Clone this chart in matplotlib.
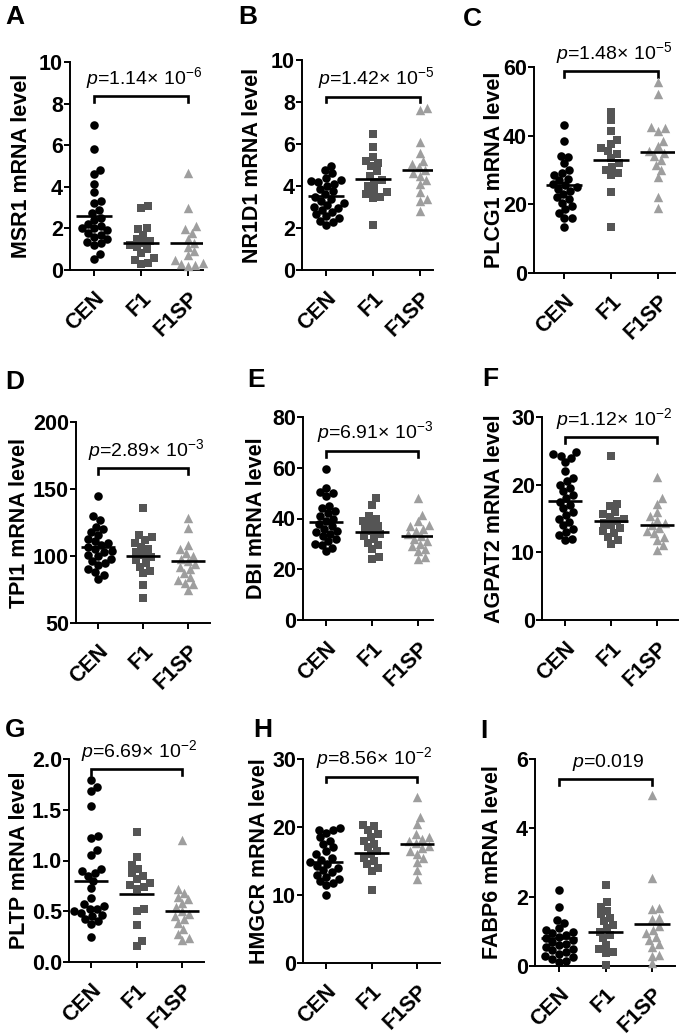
"""Dot plots of mRNA levels (CEN / F1 / F1SP) for nine genes, 3x3 grid."""

import matplotlib

matplotlib.use("Agg")
import matplotlib.pyplot as plt
import matplotlib.transforms as mtransforms
import numpy as np

plt.rcParams["font.family"] = ["Liberation Sans", "DejaVu Sans"]
plt.rcParams["mathtext.fontset"] = "custom"
plt.rcParams["mathtext.rm"] = "Liberation Sans"
plt.rcParams["mathtext.it"] = "Liberation Sans:italic"

GROUPS = ["CEN", "F1", "F1SP"]
GENES = ["MSR1", "NR1D1", "PLCG1", "TPI1", "DBI", "AGPAT2", "PLTP", "HMGCR", "FABP6"]
LETTERS = ["A", "B", "C", "D", "E", "F", "G", "H", "I"]
P_LABELS = [
    r"$\mathit{p}$=1.14× 10$^{-6}$",
    r"$\mathit{p}$=1.42× 10$^{-5}$",
    r"$\mathit{p}$=1.48× 10$^{-5}$",
    r"$\mathit{p}$=2.89× 10$^{-3}$",
    r"$\mathit{p}$=6.91× 10$^{-3}$",
    r"$\mathit{p}$=1.12× 10$^{-2}$",
    r"$\mathit{p}$=6.69× 10$^{-2}$",
    r"$\mathit{p}$=8.56× 10$^{-2}$",
    r"$\mathit{p}$=0.019",
]

# values
msr1_cen = [6.97, 5.8, 4.82, 4.6, 4.15, 3.75, 3.3, 3.2, 2.9, 2.75, 2.5, 2.4, 2.2,
            2.1, 2.0, 2.0, 1.9, 1.8, 1.7, 1.6, 1.5, 1.35, 1.3, 1.2, 0.75, 0.55]
msr1_f1 = [3.1, 3.0, 2.0, 1.95, 1.7, 1.5, 1.4, 1.3, 1.2, 1.1, 1.0, 0.8, 0.6, 0.5, 0.35, 0.3]
msr1_f1sp = [4.65, 3.0, 2.1, 1.95, 1.8, 1.5, 1.3, 1.1, 0.9, 0.7, 0.5, 0.35, 0.3, 0.25, 0.2]
msr1_means = [2.6, 1.3, 1.3]

nr1d1_cen = [4.95, 4.75, 4.6, 4.4, 4.3, 4.25, 4.2, 4.1, 4.0, 3.85, 3.75, 3.6, 3.5, 3.4,
             3.3, 3.2, 3.1, 3.0, 2.95, 2.85, 2.75, 2.65, 2.55, 2.5, 2.35, 2.3, 2.15]
nr1d1_f1 = [6.5, 5.85, 5.4, 5.2, 5.1, 4.95, 4.7, 4.5, 4.3, 4.2, 4.0, 3.8, 3.7, 3.6, 3.5, 3.45, 2.15]
nr1d1_f1sp = [7.7, 7.6, 6.1, 5.55, 5.2, 5.05, 4.9, 4.75, 4.6, 4.5, 4.3, 4.1, 3.7, 3.4, 3.3, 2.8]
nr1d1_means = [3.52, 4.35, 4.77]

plcg1_cen = [43, 38.5, 34, 33.8, 32, 30, 29, 28.5, 27.5, 27, 26, 25.5, 25, 24.5, 24, 23,
             22, 21.5, 20.5, 19.5, 18.5, 17.5, 16, 16, 13.5]
plcg1_f1 = [47, 44.5, 41.5, 38.7, 37.5, 36.5, 35.5, 34.8, 33.5, 32, 31, 30, 29, 28.5, 23.5, 13.5]
plcg1_f1sp = [55.5, 52, 42.5, 42.3, 41.5, 38.5, 37, 35.5, 35, 34, 33, 31.5, 30, 28, 22, 19]
plcg1_means = [25.6, 33.0, 35.2]

tpi1_cen = [145, 130, 127, 122, 120, 118, 116, 113, 111, 110, 108, 107, 105, 104, 103,
            101, 100, 98, 96, 95, 93, 90, 88, 86, 83]
tpi1_f1 = [136, 116, 114, 112, 110, 107, 105, 103, 101, 99, 97, 95, 92, 89, 87, 78, 69]
tpi1_f1sp = [128, 121, 108, 105, 102, 100, 98, 96, 94, 92, 90, 87, 84, 82, 80, 79, 75]
tpi1_means = [106.5, 100.0, 96.0]

dbi_cen = [59.5, 52, 50.5, 50, 49, 45, 44, 43, 42, 41, 40, 39, 38, 37, 36, 35, 34.5,
           34, 33, 32, 31, 30, 29.5, 28.5, 27]
dbi_f1 = [48, 45.5, 41, 40, 39, 38, 37, 36, 35, 34, 33, 32, 30.5, 29.5, 28, 25, 24]
dbi_f1sp = [48, 41.5, 39, 37.5, 37, 36, 35, 34, 33, 32, 31, 30, 29, 28, 27, 25, 24]
dbi_means = [38.8, 34.7, 33.2]

agpat2_cen = [24.8, 24.6, 24.3, 24.0, 23.4, 22.0, 21.0, 20.5, 20.0, 19.5, 19.0, 18.5, 18.0,
              17.5, 17.0, 16.5, 16.0, 15.5, 15.0, 14.5, 14.0, 13.5, 13.0, 12.5, 12.0, 11.8]
agpat2_f1 = [24.2, 17.2, 16.8, 16.0, 15.7, 15.2, 15.0, 14.7, 14.4, 14.0, 13.6, 13.2, 12.8,
             12.3, 11.8, 11.3]
agpat2_f1sp = [21.2, 18.0, 17.2, 16.0, 15.3, 14.8, 14.3, 14.0, 13.6, 13.2, 12.8, 12.3, 11.8,
               11.1, 10.4]
agpat2_means = [17.6, 14.6, 14.1]

pltp_cen = [1.79, 1.72, 1.68, 1.54, 1.24, 1.22, 1.10, 1.05, 0.92, 0.90, 0.88, 0.85, 0.80,
            0.73, 0.63, 0.57, 0.55, 0.52, 0.52, 0.50, 0.48, 0.46, 0.45, 0.42, 0.40, 0.37, 0.25]
pltp_f1 = [1.28, 1.03, 0.96, 0.92, 0.88, 0.85, 0.82, 0.78, 0.76, 0.74, 0.72, 0.52, 0.50,
           0.36, 0.21, 0.16]
pltp_f1sp = [1.20, 0.72, 0.68, 0.64, 0.62, 0.58, 0.54, 0.50, 0.47, 0.45, 0.42, 0.38, 0.33,
             0.28, 0.24, 0.22]
pltp_means = [0.80, 0.67, 0.50]

hmgcr_cen = [19.8, 19.6, 19.5, 19.1, 18.5, 18.0, 17.5, 17.0, 16.5, 16.0, 15.5, 15.2, 14.9,
             14.6, 14.3, 14.0, 13.7, 13.4, 13.0, 12.7, 12.4, 12.0, 11.7, 11.4, 10.0]
hmgcr_f1 = [20.3, 20.2, 19.5, 19.0, 18.5, 18.0, 17.5, 17.0, 16.5, 16.0, 15.5, 15.0, 14.5,
            14.0, 13.6, 10.7]
hmgcr_f1sp = [24.4, 21.4, 20.4, 19.0, 18.6, 18.3, 17.9, 17.6, 17.2, 16.9, 16.5, 16.1, 15.5,
              14.9, 13.7, 12.4]
hmgcr_means = [14.9, 16.2, 17.5]

fabp6_cen = [2.2, 1.7, 1.33, 1.25, 1.1, 1.05, 1.0, 0.95, 0.9, 0.85, 0.8, 0.75, 0.7, 0.65,
             0.6, 0.55, 0.5, 0.45, 0.4, 0.35, 0.3, 0.25, 0.2, 0.15, 0.12]
fabp6_f1 = [2.35, 1.85, 1.72, 1.60, 1.50, 1.40, 1.30, 1.20, 1.10, 1.00, 0.90, 0.80, 0.60,
            0.50, 0.40, 0.38, 0.02]
fabp6_f1sp = [4.95, 2.55, 1.68, 1.65, 1.38, 1.35, 1.15, 1.05, 0.95, 0.85, 0.75, 0.65, 0.55,
              0.32, 0.30, 0.08]
fabp6_means = [0.80, 1.00, 1.22]

# bracket heights (data units)
bracket_y = [8.35, 8.25, 58.8, 165.5, 66.6, 27.0, 1.90, 27.4, 5.42]

y_ticks = [
    [0, 2, 4, 6, 8, 10],
    [0, 2, 4, 6, 8, 10],
    [0, 20, 40, 60],
    [50, 100, 150, 200],
    [0, 20, 40, 60, 80],
    [0, 10, 20, 30],
    [0.0, 0.5, 1.0, 1.5, 2.0],
    [0, 10, 20, 30],
    [0, 2, 4, 6],
]

panel_data = [
    (msr1_cen, msr1_f1, msr1_f1sp, msr1_means),
    (nr1d1_cen, nr1d1_f1, nr1d1_f1sp, nr1d1_means),
    (plcg1_cen, plcg1_f1, plcg1_f1sp, plcg1_means),
    (tpi1_cen, tpi1_f1, tpi1_f1sp, tpi1_means),
    (dbi_cen, dbi_f1, dbi_f1sp, dbi_means),
    (agpat2_cen, agpat2_f1, agpat2_f1sp, agpat2_means),
    (pltp_cen, pltp_f1, pltp_f1sp, pltp_means),
    (hmgcr_cen, hmgcr_f1, hmgcr_f1sp, hmgcr_means),
    (fabp6_cen, fabp6_f1, fabp6_f1sp, fabp6_means),
]

# layout in pixels: axes left, top, right, bottom, first tick x, last tick x
AX_PX = [
    (70, 62, 203, 270, 94, 188),
    (302, 60, 433, 270, 326, 420),
    (534, 67, 675, 273, 564, 658),
    (76, 422, 210, 623, 98, 188),
    (303, 417, 433, 620, 326, 418),
    (542, 417, 678, 620, 565, 657),
    (69, 759, 204, 962, 91, 182),
    (303, 759, 440, 963, 326, 417),
    (535, 759, 675, 966, 559, 652),
]
LABEL_X_PX = [27, 258, 500, 25, 262, 500, 25, 265, 498]
LETTER_PX = [(5, 5), (238, 5), (463, 7), (5, 370), (247, 368), (482, 367),
             (5, 718), (253, 718), (480, 719)]

W, H = 685, 1035
DPI = 100
MARKERS = ["o", "s", "^"]
COLORS = ["#000000", "#555555", "#9e9e9e"]
SIZES = [38, 31, 46]


def swarm_offsets(values, px_per_y, diam):
    """Simple beeswarm: x offsets (pixels) so markers do not overlap much."""
    vals = np.asarray(values, dtype=float) * px_per_y
    order = np.argsort(vals)
    placed = []
    offs = np.zeros(len(vals))
    for i in order:
        y = vals[i]
        cands = [0.0]
        for py, px in placed:
            dy = y - py
            if abs(dy) < diam:
                dx = np.sqrt(diam ** 2 - dy ** 2)
                cands += [px + dx, px - dx]
        ok = [c for c in cands
              if all((c - px) ** 2 + (y - py) ** 2 >= diam ** 2 - 1e-6 for py, px in placed)]
        best = min(ok, key=abs)
        placed.append((y, best))
        offs[i] = best
    return offs


fig = plt.figure(figsize=(W / DPI, H / DPI), dpi=DPI)

for k in range(9):
    left, top, right, bottom, t0, t2 = AX_PX[k]
    ax = fig.add_axes([left / W, 1 - bottom / H, (right - left) / W, (bottom - top) / H])
    step = (t2 - t0) / 2.0
    ax.set_xlim((left - t0) / step, (right - t0) / step)
    ticks = y_ticks[k]
    ax.set_ylim(ticks[0], ticks[-1])
    px_per_y = (bottom - top) / (ticks[-1] - ticks[0])

    cen, f1, f1sp, means = panel_data[k]
    for g, vals in enumerate([cen, f1, f1sp]):
        offs = swarm_offsets(vals, px_per_y, 7.5) / step
        ax.scatter(g + offs, vals, marker=MARKERS[g], s=SIZES[g], c=COLORS[g],
                   linewidths=0, zorder=3, clip_on=False)
        ax.plot([g - 0.38, g + 0.38], [means[g], means[g]], color="black", lw=1.9,
                zorder=4, solid_capstyle="butt")

    # bracket CEN vs F1SP
    yb = bracket_y[k]
    drop = 5.5 / px_per_y
    ax.plot([0, 0, 2, 2], [yb - drop, yb, yb, yb - drop], color="black", lw=1.9,
            clip_on=False, solid_joinstyle="miter")
    ax.annotate(P_LABELS[k], xy=(1, yb), xytext=(2, 9), textcoords="offset points",
                ha="center", va="baseline", fontsize=14, annotation_clip=False)

    for s in ("top", "right"):
        ax.spines[s].set_visible(False)
    for s in ("left", "bottom"):
        ax.spines[s].set_linewidth(1.4)
    ax.set_yticks(ticks)
    ax.set_yticklabels([f"{t:.1f}" if k == 6 else f"{t:g}" for t in ticks],
                       fontsize=15.5, fontweight="bold")
    ax.set_xticks([0, 1, 2])
    ax.set_xticklabels(GROUPS, fontsize=15.5, fontweight="bold", rotation=45,
                       ha="right", va="top", rotation_mode="anchor")
    shift = mtransforms.ScaledTranslation(7 / DPI, 0, fig.dpi_scale_trans)
    for lab in ax.get_xticklabels():
        lab.set_transform(lab.get_transform() + shift)
    ax.tick_params(axis="both", direction="out", length=4, width=1.4)
    ax.tick_params(axis="y", pad=1)
    ax.tick_params(axis="x", pad=9)

    ax.set_ylabel(f"{GENES[k]} mRNA level", fontsize=15.5, fontweight="bold",
                  va="baseline")
    ax.yaxis.set_label_coords((LABEL_X_PX[k] - left) / (right - left), 0.5)

    lx, ly = LETTER_PX[k]
    fig.text(lx / W, 1 - ly / H, LETTERS[k], fontsize=19, fontweight="bold",
             ha="left", va="top")

fig.savefig("out.png", dpi=DPI)
